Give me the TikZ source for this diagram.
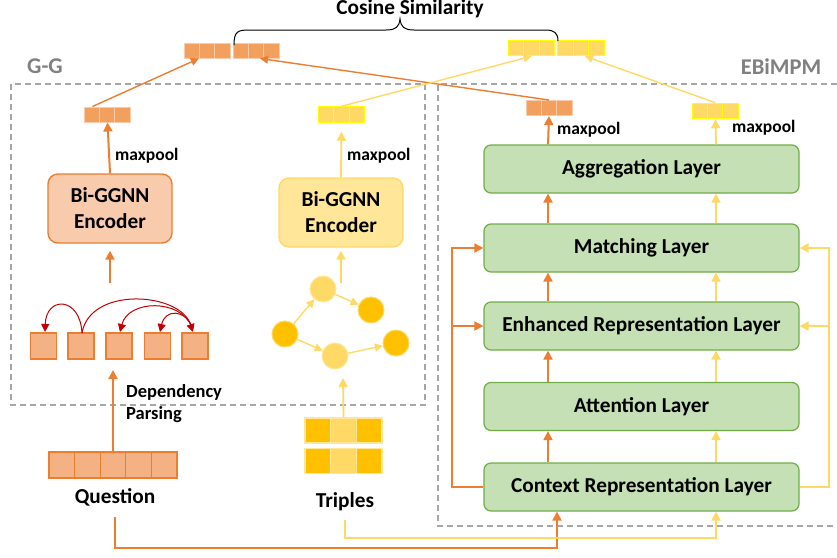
\documentclass[tikz,border=0pt]{standalone}
\usepackage{fontspec}
\setmainfont{Carlito}
\usetikzlibrary{arrows.meta,calc}
\definecolor{oc}{HTML}{ED7D31}
\definecolor{ofill}{HTML}{F8CBAD}
\definecolor{ocell}{HTML}{F4B183}
\definecolor{ovec}{HTML}{F3A05F}
\definecolor{yc}{HTML}{FFD966}
\definecolor{yfill}{HTML}{FFE699}
\definecolor{ydark}{HTML}{FFC000}
\definecolor{yvecb}{HTML}{FFFF00}
\definecolor{gfill}{HTML}{C5E0B4}
\definecolor{gdraw}{HTML}{70AD47}
\definecolor{rc}{HTML}{C00000}
\definecolor{dgray}{HTML}{A6A6A6}
\definecolor{lgray}{HTML}{808080}
\tikzset{
  tip/.style={-{Triangle[length=9pt,width=9pt]}},
  oline/.style={draw=oc,line width=2pt},
  yline/.style={draw=yc,line width=1.8pt},
  oarr/.style={oline,tip},
  yarr/.style={yline,tip},
  othin/.style={draw=oc,line width=1.4pt,-{Triangle[length=8pt,width=8pt]}},
  ythin/.style={draw=yc,line width=1.4pt,-{Triangle[length=8pt,width=8pt]}},
  layer/.style={draw=gdraw,fill=gfill,line width=1.2pt,rounded corners=7pt,
    minimum width=315pt,minimum height=48pt,inner sep=0pt},
  enc/.style={rounded corners=10pt,line width=1.4pt,minimum width=124pt,
    minimum height=69pt,align=center,inner sep=0pt},
  ovcell/.style={fill=ovec,draw=ofill,line width=1pt,minimum width=15.3pt,minimum height=15pt,inner sep=0pt},
  yvcell/.style={fill=yc,draw=yvecb,line width=1pt,minimum width=15.6pt,minimum height=15.5pt,inner sep=0pt},
  qcell/.style={fill=ocell,draw=oc,line width=1.2pt,minimum width=25.6pt,minimum height=26pt,inner sep=0pt},
  tcell/.style={draw=yfill,line width=1.2pt,minimum width=25.6pt,minimum height=25pt,inner sep=0pt},
  gnode/.style={circle,minimum size=26pt,inner sep=0pt,line width=1pt},
  dep/.style={draw=rc,line width=1pt,-{Triangle[length=8pt,width=8pt]}},
  gbox/.style={draw=dgray,line width=1.3pt,dash pattern=on 6pt off 4pt},
  lbl/.style={font=\bfseries\fontsize{17.5}{22}\selectfont,inner sep=0pt},
  big/.style={font=\bfseries\fontsize{21.3}{26}\selectfont,inner sep=0pt},
  grp/.style={font=\bfseries\fontsize{22.5}{26}\selectfont,inner sep=0pt,text=lgray},
}
\begin{document}
\begin{tikzpicture}[x=1pt,y=-1pt,font=\bfseries\fontsize{21.3}{26}\selectfont]
\useasboundingbox (0,0) rectangle (837,557);

% dashed boxes
\draw[gbox] (11,84) rectangle (425,405);
\draw[gbox] (837,84) -- (438,84) -- (438,526) -- (837,526);
\node[grp] (gglbl) at (45,66) {G-G};
\node[grp] (eblbl) at (781,67) {EBiMPM};

% top vectors
\foreach \i in {1,2,3}{
  \node[ovcell] (vOa-\i) at ({191.7+(\i-1)*15.33},50.5) {};
  \node[ovcell] (vOb-\i) at ({240.7+(\i-1)*15.33},50.5) {};
  \node[yvcell] (vYa-\i) at ({515.8+(\i-1)*15.67},48) {};
  \node[yvcell] (vYb-\i) at ({565.7+(\i-1)*15.33},48) {};
  \node[ovcell] (gO-\i) at ({92.5+(\i-1)*15},114.5) {};
  \node[yvcell] (gY-\i) at ({325.8+(\i-1)*15.67},114.5) {};
  \node[ovcell] (eO-\i) at ({533.7+(\i-1)*15.33},108) {};
  \node[yvcell] (eY-\i) at ({700.5+(\i-1)*15},111) {};
}

% brace + title
\node[big] (cos) at (410,9) {Cosine Similarity};
\draw[line width=1pt] (234,45) .. controls (234,31) and (238,30) .. (250,30) -- (386,30)
  .. controls (396,30) and (399,27) .. (400,19)
  .. controls (401,27) and (404,30) .. (414,30) -- (546,30)
  .. controls (554,30) and (558,33) .. (558,41);

% top arrows
\draw[othin] (gO-1.north) -- (vOa-2.south west);
\draw[othin] (eO-2.north) -- ($(vOb-2.south)+(4,0)$);
\draw[ythin] (gY-2.north) -- (vYa-2.south);
\draw[ythin] (eY-2.north) -- ($(vYb-2.south)+(4,0)$);

% G-G encoders
\node[enc,fill=ofill,draw=oc] (bgO) at (110,208.5) {Bi-GGNN\\Encoder};
\node[enc,fill=yfill,draw=yc] (bgY) at (341,212.5) {Bi-GGNN\\Encoder};
\draw[oarr] (bgO.north) -- (gO-2.south);
\draw[yarr,shorten >=9pt] (bgY.north) -- (gY-2.south);
\node[lbl,anchor=west] (mp1) at (115,156) {maxpool};
\node[lbl,anchor=west] (mp2) at (347,156) {maxpool};

% dependency cells
\foreach \x [count=\i] in {43.5,81,119,157.5,195}{
  \node[qcell,minimum width=26pt] (d-\i) at (\x,346) {};
}
\coordinate (gsO) at (110,283);
\draw[oarr,shorten >=7pt] (gsO) -- (bgO.south);
\draw[dep] (82,333) .. controls (80,296) and (46,296) .. (45,332);
\draw[dep] (82,333) .. controls (90,286) and (180,292) .. (193,332);
\draw[dep] (192,327) .. controls (180,298) and (128,300) .. (120,332);
\draw[dep] (192,327) .. controls (185,309) and (165,309) .. (160,332);

% question
\foreach \i in {1,...,5}{
  \node[qcell] (q-\i) at ({61.8+(\i-1)*25.6},465) {};
}
\node[big] (question) at (115,497) {Question};
\coordinate (dpEnd) at (113,370);
\draw[oarr] (q-3.north) -- (dpEnd);
\node[lbl,anchor=west,align=left,font=\bfseries\fontsize{18.5}{22}\selectfont] (dp) at (126,404) {Dependency\\Parsing};

% graph
\node[gnode,fill=ydark,draw=yc] (c1) at (285,334) {};
\node[gnode,fill=yc,draw=yfill] (c2) at (323,289) {};
\node[gnode,fill=ydark,draw=yc] (c3) at (371,310) {};
\node[gnode,fill=yc,draw=yfill] (c4) at (335,356) {};
\node[gnode,fill=ydark,draw=yc] (c5) at (396,343) {};
\draw[ythin] (c1) -- (c2);
\draw[ythin] (c2) -- (c3);
\draw[ythin] (c1) -- (c4);
\draw[ythin] (c4) -- (c5);
\coordinate (gsY) at (341,283);
\draw[yarr,shorten >=3pt] (gsY) -- (bgY.south);

% triples
\foreach \y [count=\r] in {430.5,461}{
  \node[tcell,fill=ydark] (t\r-1) at (317.8,\y) {};
  \node[tcell,fill=yc] (t\r-2) at (343.5,\y) {};
  \node[tcell,fill=ydark] (t\r-3) at (369.2,\y) {};
}
\node[big] (triples) at (345,502) {Triples};
\coordinate (trEnd) at (343,378);
\draw[yarr] (t1-2.north) -- (trEnd);

% EBiMPM layers
\node[layer] (agg) at (641.5,169) {Aggregation Layer};
\node[layer] (match) at (641.5,248) {Matching Layer};
\node[layer] (enh) at (641.5,326) {Enhanced Representation Layer};
\node[layer] (att) at (641.5,406.5) {Attention Layer};
\node[layer] (ctx) at (641.5,487) {Context Representation Layer};

\coordinate (oX) at (548,0);
\coordinate (yX) at (716,0);
\foreach \a/\b in {ctx/att,att/enh,enh/match,match/agg}{
  \draw[oarr] (\a.north -| oX) -- (\b.south -| oX);
  \draw[yarr] (\a.north -| yX) -- (\b.south -| yX);
}
\draw[oarr] (agg.north -| oX) -- (eO-2.south);
\draw[yarr] (agg.north -| yX) -- (eY-2.south);
\node[lbl,anchor=west] (mp3) at (557,130) {maxpool};
\node[lbl,anchor=west] (mp4) at (732,128) {maxpool};

% side feedback connectors
\coordinate (lX) at (452,0);
\coordinate (rX) at (829,0);
\draw[oarr] (ctx.west) -- (ctx.west -| lX) |- (match.west);
\draw[oarr] (enh.west -| lX) -- (enh.west);
\draw[yarr] (ctx.east) -- (ctx.east -| rX) |- (match.east);
\draw[yarr] (enh.east -| rX) -- (enh.east);

% bottom connectors
\coordinate (qb) at (115,517);
\coordinate (tb) at (345,520);
\coordinate (oB) at (557,548);
\coordinate (yB) at (716,538);
\draw[oarr] (qb) |- (oB) -- (ctx.south -| oB);
\draw[yarr] (tb) |- (yB) -- (ctx.south -| yB);
\end{tikzpicture}
\end{document}
